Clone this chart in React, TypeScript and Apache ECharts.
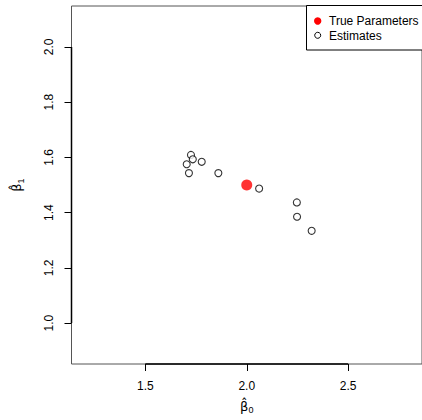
import React, { useEffect, useRef } from "react";
import * as echarts from "echarts";

const xTicks = [1.5, 2.0, 2.5];
const yTicks = [1.0, 1.2, 1.4, 1.6, 1.8, 2.0];
const xRange = [1.136, 2.864];
const yRange = [0.852, 2.148];
const trueB0 = [2.0];
const trueB1 = [1.5];
const estB0 = [1.725, 1.734, 1.704, 1.778, 1.715, 1.86, 2.061, 2.247, 2.248, 2.32];
const estB1 = [1.609, 1.593, 1.575, 1.584, 1.543, 1.543, 1.487, 1.437, 1.385, 1.334];
const legendLabels = ["True Parameters", "Estimates"];

const FONT = "'Liberation Sans', Arial, Helvetica, sans-serif";

const nameRich = {
  b: { fontFamily: "'DejaVu Sans', sans-serif", fontSize: 13, color: "#000", lineHeight: 18 },
  s: { fontFamily: FONT, fontSize: 9, color: "#000", lineHeight: 18, padding: [8, 0, 0, 0] },
};

export default function App() {
  const ref = useRef<HTMLDivElement>(null);
  useEffect(() => {
    if (!ref.current) return;
    const chart = echarts.init(ref.current, null, { renderer: "svg" });
    const xMinT = xTicks[0];
    const xMaxT = xTicks[xTicks.length - 1];
    const yMinT = yTicks[0];
    const yMaxT = yTicks[yTicks.length - 1];
    chart.setOption({
      animation: false,
      backgroundColor: "#fff",
      grid: {
        left: 70,
        top: 6,
        width: 353,
        height: 358,
        show: true,
        borderColor: "#555",
        borderWidth: 1,
        backgroundColor: "transparent",
      },
      xAxis: {
        type: "value",
        min: xRange[0],
        max: xRange[1],
        name: "{b|β̂}{s|0}",
        nameLocation: "middle",
        nameGap: 33,
        nameTextStyle: { rich: nameRich },
        splitLine: { show: false },
        axisLine: { show: false },
        axisTick: {
          show: true,
          customValues: xTicks,
          length: 7,
          lineStyle: { color: "#000", width: 1 },
        },
        axisLabel: {
          customValues: xTicks,
          margin: 16,
          fontFamily: FONT,
          fontSize: 12,
          color: "#000",
          formatter: (v: number) => v.toFixed(1),
        },
      },
      yAxis: {
        type: "value",
        min: yRange[0],
        max: yRange[1],
        name: "{b|β̂}{s|1}",
        nameLocation: "middle",
        nameGap: 46,
        nameRotate: 90,
        nameTextStyle: { rich: nameRich },
        splitLine: { show: false },
        axisLine: { show: false },
        axisTick: {
          show: true,
          customValues: yTicks,
          length: 7,
          lineStyle: { color: "#000", width: 1 },
        },
        axisLabel: {
          customValues: yTicks,
          margin: 17,
          rotate: 90,
          fontFamily: FONT,
          fontSize: 12,
          color: "#000",
          formatter: (v: number) => v.toFixed(1),
        },
      },
      series: [
        {
          type: "line",
          silent: true,
          symbol: "none",
          clip: false,
          lineStyle: { color: "#000", width: 1.5 },
          data: [
            [xMinT, yRange[0]],
            [xMaxT, yRange[0]],
          ],
          z: 5,
        },
        {
          type: "line",
          silent: true,
          symbol: "none",
          clip: false,
          lineStyle: { color: "#000", width: 1.5 },
          data: [
            [xRange[0], yMinT],
            [xRange[0], yMaxT],
          ],
          z: 5,
        },
        {
          name: legendLabels[1],
          type: "scatter",
          symbol: "circle",
          symbolSize: 7,
          itemStyle: { color: "#fff", borderColor: "#000", borderWidth: 1.1 },
          data: estB0.map((v, i) => [v, estB1[i]]),
          z: 3,
        },
        {
          name: legendLabels[0],
          type: "scatter",
          symbol: "circle",
          symbolSize: 11,
          itemStyle: { color: "#ff0000" },
          data: trueB0.map((v, i) => [v, trueB1[i]]),
          z: 4,
        },
      ],
      graphic: [
        {
          type: "rect",
          shape: { x: 306.5, y: 5.5, width: 130, height: 44.5 },
          style: { fill: "#fff", stroke: "#000", lineWidth: 1 },
          z: 10,
        },
        {
          type: "circle",
          shape: { cx: 317.7, cy: 21, r: 3.7 },
          style: { fill: "#ff0000" },
          z: 11,
        },
        {
          type: "circle",
          shape: { cx: 317.7, cy: 35.3, r: 3 },
          style: { fill: "none", stroke: "#000", lineWidth: 1 },
          z: 11,
        },
        {
          type: "text",
          x: 329,
          y: 21,
          style: {
            text: legendLabels[0],
            fontFamily: FONT,
            fontSize: 12,
            fill: "#000",
            verticalAlign: "middle",
            align: "left",
          },
          z: 11,
        },
        {
          type: "text",
          x: 329,
          y: 35.5,
          style: {
            text: legendLabels[1],
            fontFamily: FONT,
            fontSize: 12,
            fill: "#000",
            verticalAlign: "middle",
            align: "left",
          },
          z: 11,
        },
      ],
    });
    return () => chart.dispose();
  }, []);
  return (
    <div
      ref={ref}
      style={{ position: "fixed", left: 0, top: 0, width: 422, height: 420, background: "#fff" }}
    />
  );
}
